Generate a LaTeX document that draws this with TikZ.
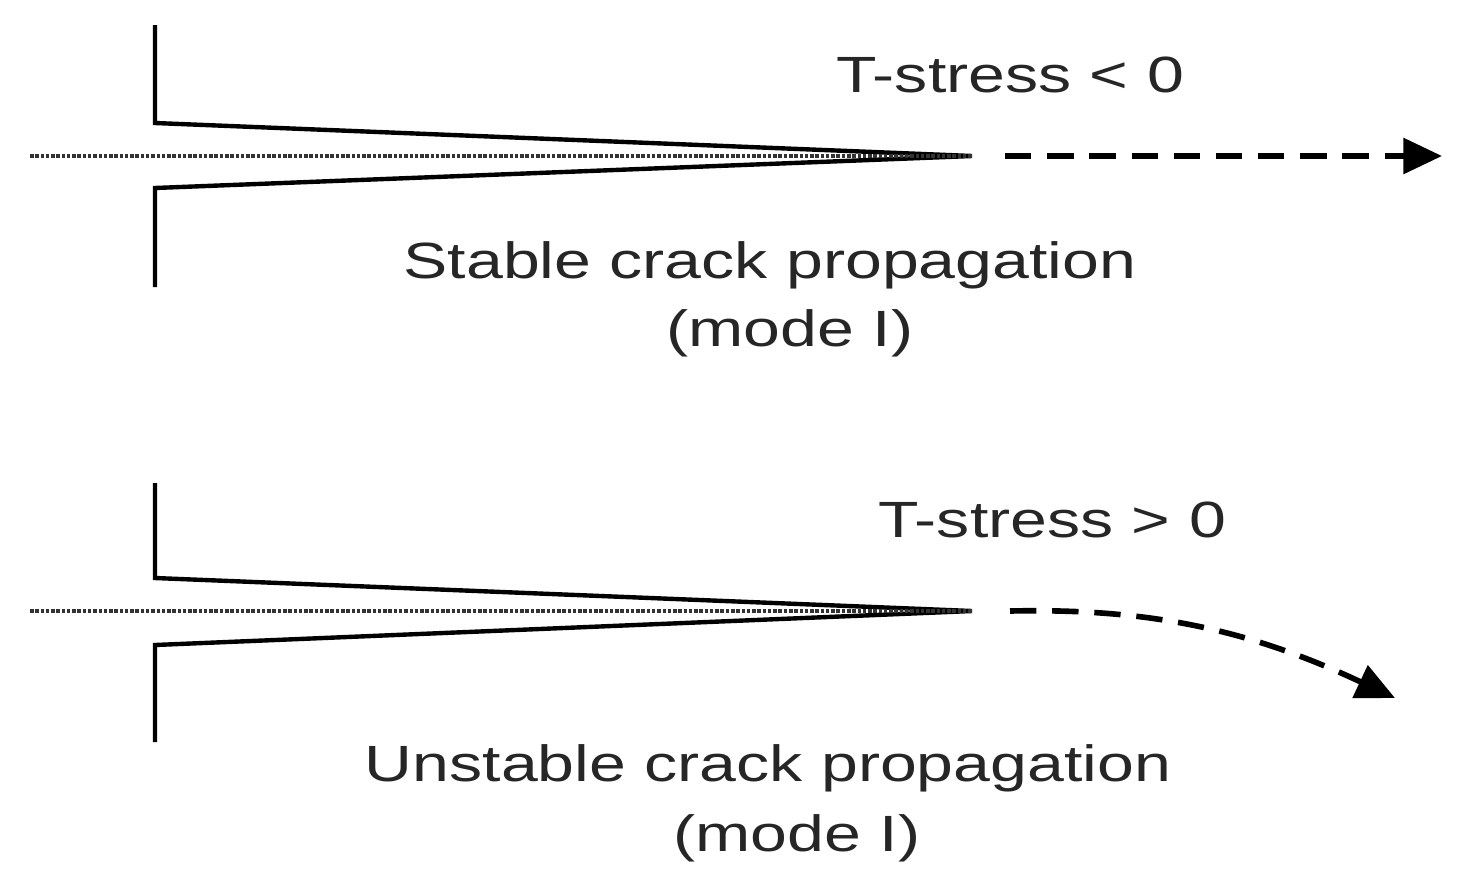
\documentclass[tikz,border=0pt]{standalone}
\usepackage{fontspec}
\setmainfont{Liberation Sans}
\usetikzlibrary{arrows.meta}
\begin{document}
\begin{tikzpicture}[x=0.02cm,y=-0.02cm,
  crack/.style={line width=2.5pt,line join=miter},
  mid/.style={line width=2pt,densely dotted,black!80},
  dasharrow/.style={line width=3.2pt,dash pattern=on 15pt off 9pt,-{Triangle[length=22pt,width=20pt]}},
  lab/.style={font=\fontsize{29}{33}\selectfont,text=black!85,xscale=1.3}]
\useasboundingbox (0,0) rectangle (1462,883);
% top
\coordinate (t1) at (155,25); \coordinate (t2) at (155,123);
\coordinate (tip1) at (972,156);
\coordinate (t3) at (155,188); \coordinate (t4) at (155,287);
\coordinate (m1) at (30,156);
\draw[crack] (t1) -- (t2) -- (tip1) -- (t3) -- (t4);
\draw[mid] (m1) -- (tip1);
\coordinate (a1) at (1005,156); \coordinate (a2) at (1442,156);
\draw[dasharrow] (a1) -- (a2);
\node[lab] (ts1) at (1010,75) {T-stress < 0};
\node[lab] (s1) at (770,265) {Stable crack propagation};
\node[lab] (s2) at (790,333) {(mode I)};
% bottom
\coordinate (b1) at (155,483); \coordinate (b2) at (155,578);
\coordinate (tip2) at (972,611);
\coordinate (b3) at (155,645); \coordinate (b4) at (155,742);
\coordinate (m2) at (30,611);
\draw[crack] (b1) -- (b2) -- (tip2) -- (b3) -- (b4);
\draw[mid] (m2) -- (tip2);
\coordinate (c1) at (1010,611); \coordinate (c2) at (1395,698);
\draw[dasharrow] (c1) .. controls (1150,608) and (1250,630) .. (c2);
\node[lab] (ts2) at (1052,520) {T-stress > 0};
\node[lab] (u1) at (768,768) {Unstable crack propagation};
\node[lab] (u2) at (797,838) {(mode I)};
\end{tikzpicture}
\end{document}
